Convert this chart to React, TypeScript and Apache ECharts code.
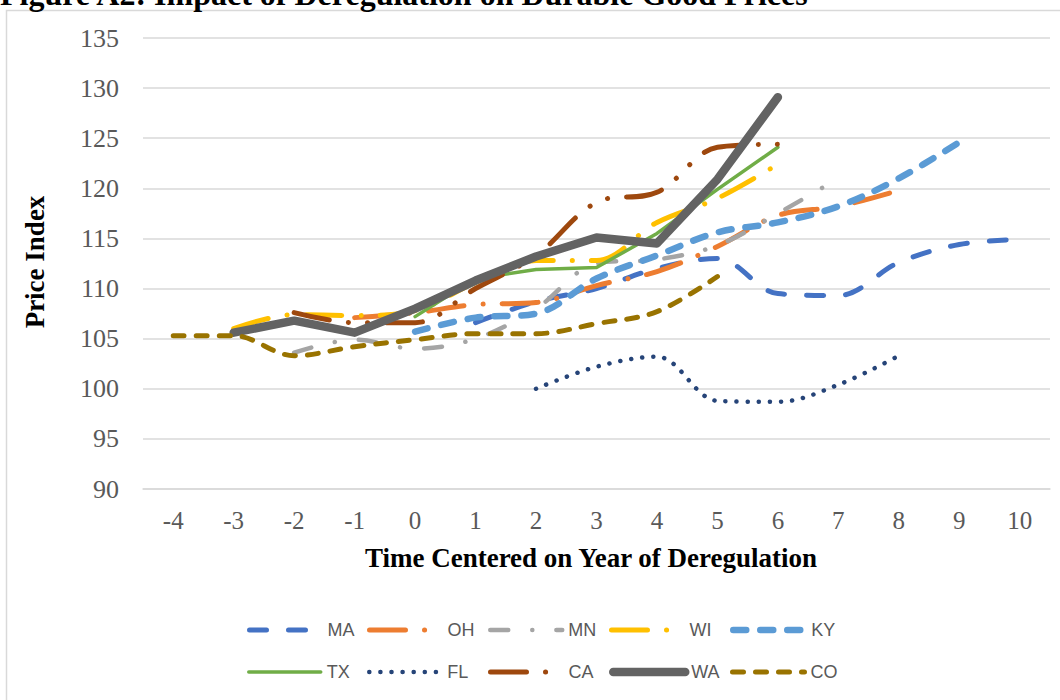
import React, { useEffect, useRef } from "react";
import * as echarts from "echarts";

const categories = ["-4", "-3", "-2", "-1", "0", "1", "2", "3", "4", "5", "6", "7", "8", "9", "10"];
const yTicks = { min: 90, max: 135, interval: 5 };

const MA = [null, null, null, null, null, 106.6, 108.7, 110, 112, 113, 109.5, 109.3, 112.6, 114.4, 114.9];
const OH = [null, null, null, 107.1, 107.6, 108.4, 108.6, 110.3, 111.7, 114.2, 117.3, 118.2, 119.8, null, null];
const MN = [null, null, 103.6, 104.9, 104, 105, 108, 112.5, 112.9, 114.3, 117.5, 121, null, null, null];
const WI = [null, 106, 107.4, 107.3, 107.8, 110.6, 112.8, 112.8, 116.6, 119, 122.4, null, null, null, null];
const KY = [null, null, null, null, 105.7, 107.1, 107.5, 111, 113.3, 115.6, 116.6, 118.2, 121, 124.6, null];
const TX = [null, null, null, null, 107.2, 111, 111.9, 112.1, 115.5, 119.9, 124.1, null, null, null, null];
const FL = [null, null, null, null, null, null, 100, 102.2, 103.2, 98.8, 98.7, 100.4, 103.3, null, null];
const CA = [null, null, 107.6, 106.6, 106.6, 110, 113.3, 118.6, 119.6, 124.1, 124.4, null, null, null, null];
const WA = [null, 105.6, 106.8, 105.6, 108, 110.8, 113.2, 115.1, 114.5, 120.9, 129.1, null, null, null, null];
const CO = [105.3, 105.3, 103.3, 104.2, 104.9, 105.5, 105.5, 106.5, 107.7, 111.2, null, null, null, null, null];

const seriesDefs = [
  { name: "MA", data: MA, color: "#4472C4", width: 5, dash: [17, 22], smooth: 0.35 },
  { name: "OH", data: OH, color: "#ED7D31", width: 5, dash: [36, 19, 0.1, 19], smooth: 0.35 },
  { name: "MN", data: MN, color: "#A5A5A5", width: 4.5, dash: [18, 24, 0.1, 24], smooth: 0.35 },
  { name: "WI", data: WI, color: "#FFC000", width: 5, dash: [36, 19, 0.1, 19], smooth: 0.35 },
  { name: "KY", data: KY, color: "#5B9BD5", width: 6.5, dash: [13, 14], smooth: 0.35 },
  { name: "TX", data: TX, color: "#70AD47", width: 3.5, dash: "solid", smooth: false },
  { name: "FL", data: FL, color: "#264478", width: 4.5, dash: [0.1, 11], smooth: 0.35 },
  { name: "CA", data: CA, color: "#9E480E", width: 5, dash: [36, 19, 0.1, 19, 0.1, 19], smooth: 0.35 },
  { name: "WA", data: WA, color: "#636363", width: 8.5, dash: "solid", smooth: false },
  { name: "CO", data: CO, color: "#997300", width: 5, dash: [11, 12], smooth: 0.35 },
];

const legendPos: Record<string, [number, number]> = {
  MA: [247, 629], OH: [367, 629], MN: [488, 629], WI: [609, 629], KY: [730, 629],
  TX: [247, 671], FL: [367, 671], CA: [488, 671], WA: [609, 671], CO: [730, 671],
};

export default function App() {
  const ref = useRef<HTMLDivElement>(null);
  useEffect(() => {
    if (!ref.current) return;
    const chart = echarts.init(ref.current, null, { renderer: "svg" });
    const serif = "'Liberation Serif', 'Times New Roman', serif";
    const sans = "'Liberation Sans', Arial, sans-serif";
    chart.setOption({
      animation: false,
      backgroundColor: "#ffffff",
      grid: { left: 143, top: 38, width: 907, height: 451, containLabel: false },
      xAxis: {
        type: "category",
        data: categories,
        boundaryGap: true,
        axisLine: { show: true, lineStyle: { color: "#D9D9D9", width: 1.5 } },
        axisTick: { show: false },
        axisLabel: { color: "#595959", fontFamily: serif, fontSize: 25, margin: 19 },
        splitLine: { show: false },
      },
      yAxis: {
        type: "value",
        min: yTicks.min,
        max: yTicks.max,
        interval: yTicks.interval,
        axisLine: { show: false },
        axisTick: { show: false },
        axisLabel: { color: "#595959", fontFamily: serif, fontSize: 26, margin: 24 },
        splitLine: { show: true, lineStyle: { color: "#D9D9D9", width: 1.5 } },
      },
      legend: seriesDefs.map((s) => ({
        data: [s.name],
        left: legendPos[s.name][0],
        top: legendPos[s.name][1] - 8,
        itemWidth: 72,
        itemHeight: 16,
        itemGap: 0,
        padding: 0,
        selectedMode: false,
        itemStyle: { opacity: 0 },
        lineStyle: { width: s.width, type: s.dash, cap: "round", color: s.color },
        textStyle: { color: "#595959", fontFamily: sans, fontSize: 18, padding: [0, 0, 0, 1] },
      })),
      series: seriesDefs.map((s) => ({
        name: s.name,
        type: "line",
        data: s.data,
        smooth: s.smooth,
        showSymbol: false,
        symbol: "none",
        connectNulls: false,
        lineStyle: { color: s.color, width: s.width, type: s.dash, cap: "round", join: "round" },
        itemStyle: { color: s.color },
        emphasis: { disabled: true },
      })),
      graphic: [
        {
          type: "rect",
          shape: { x: 6.5, y: 10.5, width: 1060, height: 700 },
          style: { fill: "none", stroke: "#D9D9D9", lineWidth: 1.5 },
          silent: true,
        },
        {
          type: "text",
          x: 0,
          y: 10,
          style: {
            text: "Figure A2: Impact of Deregulation on Durable Good Prices",
            font: `bold 32px ${serif}`,
            fill: "#000000",
            textVerticalAlign: "bottom",
          },
        },
        {
          type: "text",
          x: 591,
          y: 558,
          style: {
            text: "Time Centered on Year of Deregulation",
            font: `bold 27px ${serif}`,
            fill: "#000000",
            textAlign: "center",
            textVerticalAlign: "middle",
          },
        },
        {
          type: "text",
          x: 35,
          y: 262,
          rotation: Math.PI / 2,
          style: {
            text: "Price Index",
            font: `bold 27px ${serif}`,
            fill: "#000000",
            textAlign: "center",
            textVerticalAlign: "middle",
          },
        },
      ],
    });
    return () => chart.dispose();
  }, []);
  return (
    <div
      ref={ref}
      style={{ position: "fixed", left: 0, top: 0, width: 1060, height: 700, background: "#fff" }}
    />
  );
}
